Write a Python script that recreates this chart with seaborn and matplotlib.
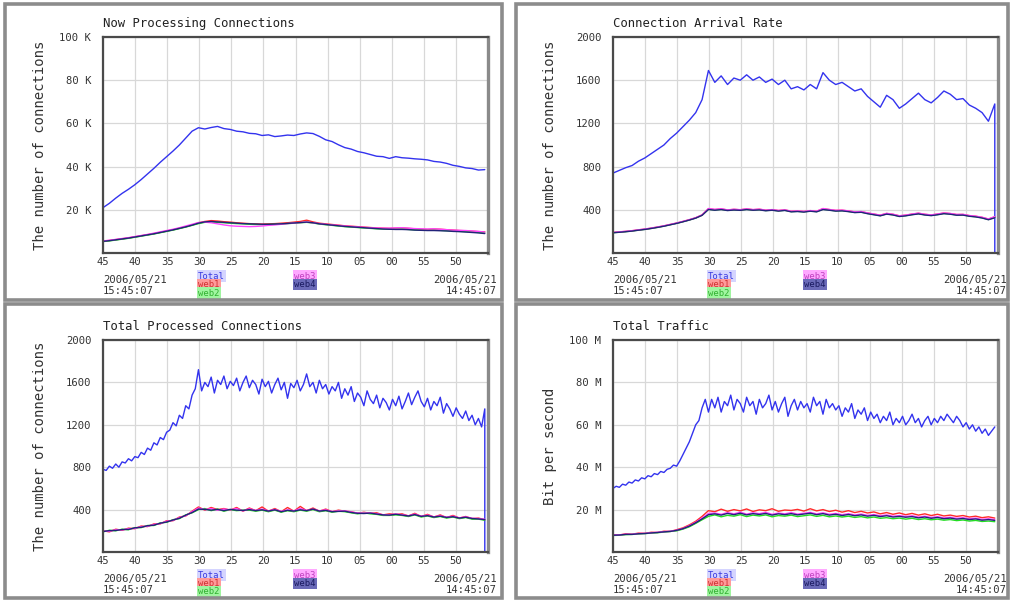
import numpy as np
import pandas as pd
import matplotlib
matplotlib.use("Agg")
import matplotlib.pyplot as plt
import matplotlib.transforms as mtransforms
from matplotlib.patches import Rectangle
import seaborn as sns

sns.set_style("white")
plt.rcParams["font.family"] = ["DejaVu Sans Mono", "DejaVu Sans"]

# ---------------------------------------------------------------- data
minute_tick_labels = ["45", "40", "35", "30", "25", "20", "15", "10", "05", "00", "55", "50"]
start_stamp = ["2006/05/21", "15:45:07"]
end_stamp = ["2006/05/21", "14:45:07"]
series_names = ["Total", "web1", "web2", "web3", "web4"]

titles = ["Now Processing Connections", "Connection Arrival Rate",
          "Total Processed Connections", "Total Traffic"]
ylabels = ["The number of connections", "The number of connections",
           "The number of connections", "Bit per second"]

now_yticks = [20, 40, 60, 80, 100]
now_yticklabels = ["20 K", "40 K", "60 K", "80 K", "100 K"]
conn_yticks = [400, 800, 1200, 1600, 2000]
conn_yticklabels = ["400", "800", "1200", "1600", "2000"]
traffic_yticks = [20, 40, 60, 80, 100]
traffic_yticklabels = ["20 M", "40 M", "60 M", "80 M", "100 M"]

# Now Processing Connections (thousands, one sample per minute)
now_total = [21, 23, 25.4, 27.6, 29.5, 31.6, 34, 36.6, 39.2, 42, 44.6, 47.2, 50, 53.2, 56.4, 58, 57.4,
             58.1, 58.6, 57.6, 57.2, 56.4, 56.1, 55.4, 55.2, 54.4, 54.7, 53.9, 54.2, 54.6, 54.4, 55.1,
             55.6, 55.3, 54, 52.4, 51.6, 50.1, 48.8, 48.1, 47, 46.4, 45.6, 44.8, 44.6, 43.8, 44.6,
             44.1, 43.9, 43.6, 43.4, 43.1, 42.4, 42.1, 41.5, 40.6, 40.1, 39.4, 39.1, 38.4, 38.6]
now_web1 = [5.5, 5.8, 6.2, 6.6, 7.0, 7.5, 8.0, 8.5, 9.0, 9.6, 10.2, 10.8, 11.5, 12.2, 13.0, 14.0, 14.6,
            15.0, 14.8, 14.5, 14.3, 14.0, 13.8, 13.6, 13.5, 13.4, 13.5, 13.6, 13.8, 14.0, 14.3, 14.6,
            15.2, 14.4, 13.8, 13.5, 13.2, 12.9, 12.6, 12.4, 12.2, 12.0, 11.8, 11.6, 11.5, 11.4, 11.5,
            11.6, 11.4, 11.2, 11.0, 10.9, 11.1, 11.0, 10.8, 10.6, 10.4, 10.3, 10.1, 9.9, 9.8]
now_web2 = [5.3, 5.6, 6.0, 6.4, 6.8, 7.3, 7.8, 8.3, 8.8, 9.4, 10.0, 10.6, 11.3, 12.0, 12.8, 13.6, 14.2,
            14.4, 14.2, 14.0, 13.8, 13.6, 13.5, 13.3, 13.2, 13.1, 13.2, 13.3, 13.4, 13.6, 13.8, 14.0,
            14.2, 13.9, 13.4, 13.1, 12.8, 12.5, 12.2, 12.0, 11.8, 11.6, 11.4, 11.2, 11.1, 11.0, 11.0,
            11.1, 10.9, 10.7, 10.6, 10.5, 10.6, 10.5, 10.3, 10.1, 10.0, 9.9, 9.7, 9.5, 9.3]
now_web3 = [5.6, 5.9, 6.3, 6.7, 7.1, 7.6, 8.1, 8.6, 9.2, 9.8, 10.4, 11.0, 11.7, 12.5, 13.3, 14.1, 14.3,
            14.0, 13.5, 13.0, 12.6, 12.4, 12.3, 12.2, 12.3, 12.5, 12.8, 13.0, 13.3, 13.6, 13.9, 14.1,
            14.3, 14.0, 13.6, 13.3, 13.0, 12.8, 12.5, 12.3, 12.1, 11.9, 11.7, 11.6, 11.5, 11.5, 11.6,
            11.7, 11.5, 11.3, 11.2, 11.1, 11.2, 11.0, 10.8, 10.6, 10.5, 10.4, 10.2, 10.0, 9.7]
now_web4 = [5.4, 5.7, 6.1, 6.5, 6.9, 7.4, 7.9, 8.4, 8.9, 9.5, 10.1, 10.7, 11.4, 12.1, 12.9, 13.8, 14.4,
            14.6, 14.4, 14.2, 14.0, 13.8, 13.6, 13.5, 13.4, 13.3, 13.3, 13.4, 13.5, 13.7, 13.9, 14.1,
            14.3, 14.0, 13.5, 13.2, 12.9, 12.6, 12.3, 12.1, 11.9, 11.7, 11.5, 11.3, 11.1, 11.0, 10.9,
            10.9, 10.8, 10.6, 10.5, 10.4, 10.4, 10.3, 10.2, 10.0, 9.9, 9.7, 9.5, 9.3, 9.0]

# Connection Arrival Rate (per minute samples; the last sample of the total is empty)
arrival_total = [740, 765, 790, 810, 850, 880, 920, 960, 1000, 1060, 1110, 1170, 1230, 1300, 1420,
                 1690, 1580, 1640, 1560, 1620, 1600, 1650, 1600, 1630, 1580, 1610, 1560, 1600, 1520,
                 1540, 1510, 1560, 1520, 1670, 1600, 1560, 1580, 1540, 1500, 1520, 1450, 1400, 1350,
                 1460, 1420, 1340, 1380, 1430, 1480, 1420, 1390, 1440, 1500, 1470, 1420, 1430, 1370,
                 1340, 1300, 1220, 1380]
arrival_web1 = [190, 195, 200, 206, 214, 221, 230, 240, 251, 264, 277, 292, 308, 326, 352, 410, 402,
                408, 398, 404, 400, 408, 401, 405, 396, 401, 393, 399, 386, 389, 384, 392, 386, 410,
                402, 394, 396, 389, 380, 383, 370, 360, 350, 366, 358, 344, 350, 360, 368, 358, 352,
                360, 370, 365, 356, 357, 346, 340, 330, 314, 335]
arrival_web2 = [188, 193, 198, 204, 212, 219, 228, 238, 249, 262, 275, 290, 306, 324, 350, 405, 398,
                404, 395, 400, 397, 404, 398, 401, 393, 398, 390, 396, 383, 386, 381, 389, 383, 405,
                398, 390, 392, 385, 376, 379, 366, 356, 346, 362, 354, 340, 346, 356, 364, 354, 348,
                356, 366, 361, 352, 353, 342, 336, 326, 310, 330]
arrival_web3 = [191, 196, 201, 207, 215, 222, 231, 241, 252, 265, 278, 293, 309, 327, 353, 412, 404,
                410, 399, 405, 401, 409, 402, 406, 397, 402, 394, 400, 387, 390, 385, 393, 387, 412,
                403, 395, 397, 390, 381, 384, 371, 361, 351, 367, 359, 345, 351, 361, 369, 359, 353,
                361, 371, 366, 357, 358, 347, 341, 331, 315, 337]
arrival_web4 = [187, 192, 197, 203, 211, 218, 227, 237, 248, 261, 274, 289, 305, 323, 349, 403, 396,
                402, 393, 398, 395, 402, 396, 399, 391, 396, 388, 394, 381, 384, 379, 387, 381, 402,
                396, 388, 390, 383, 374, 377, 364, 354, 344, 360, 352, 338, 344, 354, 362, 352, 346,
                354, 364, 359, 350, 351, 340, 334, 324, 308, 326]

# Total Processed Connections (total every 30 s, hosts every minute)
processed_total = [780, 770, 810, 790, 830, 800, 850, 840, 880, 860, 900,
                   890, 940, 920, 980, 960, 1030, 1010, 1080, 1060, 1130,
                   1150, 1220, 1190, 1290, 1260, 1380, 1350, 1480, 1540, 1720,
                   1520, 1600, 1560, 1650, 1500, 1620, 1580, 1660, 1540, 1610,
                   1570, 1640, 1520, 1600, 1660, 1550, 1620, 1580, 1490, 1630,
                   1560, 1610, 1500, 1580, 1640, 1530, 1600, 1450, 1590, 1550,
                   1620, 1520, 1580, 1680, 1560, 1600, 1500, 1620, 1540, 1580,
                   1490, 1560, 1520, 1600, 1450, 1540, 1480, 1560, 1420, 1500,
                   1460, 1380, 1520, 1440, 1400, 1480, 1360, 1450, 1410, 1340,
                   1440, 1380, 1470, 1350, 1420, 1500, 1390, 1460, 1520, 1420,
                   1370, 1450, 1340, 1420, 1380, 1460, 1310, 1400, 1350, 1280,
                   1360, 1300, 1260, 1330, 1240, 1290, 1200, 1260, 1180, 1350]
processed_web1 = [200, 190, 215, 205, 225, 220, 245, 240, 265, 265, 295, 295, 330, 340, 385, 425,
                  395, 420, 400, 410, 395, 420, 385, 415, 390, 425, 385, 410, 380, 420, 385,
                  430, 390, 415, 385, 405, 380, 395, 385, 380, 365, 375, 365, 370, 350, 360,
                  355, 360, 340, 365, 335, 355, 330, 350, 325, 345, 320, 335, 315, 320, 305]
processed_web2 = [190, 205, 200, 215, 210, 230, 230, 250, 250, 275, 280, 305, 315, 350, 370, 400,
                  410, 390, 405, 385, 400, 390, 395, 395, 385, 395, 380, 395, 375, 390, 380,
                  395, 385, 400, 380, 390, 375, 385, 380, 370, 360, 370, 360, 355, 345, 345,
                  350, 345, 335, 350, 330, 340, 325, 335, 320, 330, 315, 325, 310, 310, 300]
processed_web3 = [198, 195, 210, 208, 220, 222, 240, 242, 260, 268, 290, 298, 325, 342, 380, 415,
                  400, 410, 395, 405, 398, 410, 388, 408, 392, 405, 388, 402, 383, 398, 388,
                  410, 392, 405, 388, 398, 382, 388, 388, 378, 368, 368, 368, 362, 352, 352,
                  358, 352, 342, 358, 338, 348, 332, 342, 328, 338, 322, 332, 318, 316, 308]
processed_web4 = [193, 202, 203, 212, 213, 228, 233, 248, 253, 272, 283, 302, 318, 348, 372, 405,
                  402, 395, 402, 390, 402, 395, 392, 400, 390, 398, 386, 398, 380, 393, 386,
                  398, 390, 405, 386, 392, 380, 383, 385, 373, 365, 363, 367, 358, 350, 348,
                  356, 348, 340, 353, 336, 343, 330, 338, 326, 333, 320, 328, 316, 312, 305]

# Total Traffic (Mbit/s; total every 30 s, hosts every minute)
traffic_total = [30, 31, 30.5, 32, 31.5, 33, 32.5, 34, 33.5, 35, 34.5,
                 36, 35.5, 37, 36.5, 38, 37.5, 39, 39.5, 41, 40.5,
                 43, 46, 49, 52, 56, 60, 62, 68, 72, 66,
                 72, 68, 73, 66, 71, 69, 74, 67, 72, 70,
                 66, 73, 69, 71, 65, 72, 68, 70, 74, 67,
                 71, 66, 70, 73, 64, 69, 72, 67, 71, 68,
                 70, 66, 73, 69, 71, 65, 72, 68, 70, 67,
                 69, 64, 68, 66, 70, 63, 67, 65, 68, 62,
                 66, 63, 65, 61, 64, 62, 66, 60, 63, 61,
                 64, 60, 62, 65, 61, 63, 59, 62, 64, 60,
                 63, 61, 64, 62, 65, 63, 61, 64, 62, 59,
                 61, 58, 60, 57, 59, 56, 58, 55, 57, 59]
traffic_web1 = [8.2, 8.0, 8.6, 8.4, 8.9, 8.8, 9.3, 9.2, 9.8, 9.7, 10.5, 11.4, 12.8, 14.5, 16.8, 19.5,
                19.0, 20.2, 19.2, 20.0, 19.4, 20.3, 19.1, 19.9, 19.5, 20.4, 19.2, 19.8, 19.6, 20.1, 19.3,
                20.4, 19.4, 20.0, 19.1, 19.7, 18.8, 19.5, 18.6, 19.2, 18.4, 18.9, 18.0, 18.6, 17.8, 18.4,
                17.6, 18.2, 17.4, 18.0, 17.2, 17.8, 17.0, 17.4, 16.8, 17.2, 16.5, 16.9, 16.2, 16.6, 16.0]
traffic_web2 = [7.8, 7.9, 8.2, 8.3, 8.5, 8.7, 8.9, 9.1, 9.4, 9.7, 10.0, 10.8, 11.9, 13.5, 15.2, 16.8,
                17.5, 16.6, 17.3, 16.9, 17.6, 16.7, 17.4, 17.0, 17.5, 16.6, 17.2, 16.9, 17.4, 16.7, 17.1,
                17.5, 16.8, 17.3, 16.6, 17.0, 16.5, 16.9, 16.3, 16.7, 16.1, 16.5, 15.9, 16.2, 15.7, 16.0,
                15.5, 15.9, 15.3, 15.7, 15.2, 15.5, 15.0, 15.3, 14.8, 15.1, 14.6, 14.9, 14.4, 14.6, 14.3]
traffic_web3 = [8.0, 8.1, 8.4, 8.4, 8.7, 8.8, 9.1, 9.3, 9.6, 9.8, 10.3, 11.1, 12.4, 14.0, 16.0, 18.2,
                18.4, 17.8, 18.6, 18.0, 18.8, 17.9, 18.5, 18.1, 18.7, 17.8, 18.4, 18.0, 18.6, 17.9, 18.3,
                18.7, 18.0, 18.5, 17.8, 18.2, 17.6, 18.1, 17.5, 17.9, 17.3, 17.7, 17.1, 17.5, 16.9, 17.2,
                16.8, 17.1, 16.5, 16.9, 16.3, 16.7, 16.1, 16.4, 15.9, 16.2, 15.7, 16.0, 15.4, 15.7, 15.3]
traffic_web4 = [7.9, 8.0, 8.3, 8.3, 8.6, 8.7, 9.0, 9.2, 9.5, 9.7, 10.2, 11.0, 12.2, 13.8, 15.6, 17.6,
                18.0, 17.4, 18.2, 17.6, 18.3, 17.5, 18.1, 17.7, 18.2, 17.4, 18.0, 17.6, 18.1, 17.5, 17.9,
                18.3, 17.6, 18.1, 17.4, 17.8, 17.2, 17.7, 17.1, 17.5, 16.9, 17.3, 16.7, 17.1, 16.5, 16.8,
                16.4, 16.7, 16.1, 16.5, 15.9, 16.3, 15.7, 16.0, 15.5, 15.8, 15.3, 15.6, 15.0, 15.3, 14.9]

# the collector reported an empty final sample for these two counters
final_empty_sample = [None, 0, 0, None]
# samples cover the window up to the last completed poll
sampled_span_minutes = 59.5

# ---------------------------------------------------------------- style
line_colors = ["#3333ee", "#ff2a2a", "#22dd22", "#ff44ff", "#22227a"]
legend_text_colors = ["#3a3ae0", "#d03030", "#30b030", "#c040c0", "#1a1a60"]
legend_face_colors = ["#d4d4ff", "#ff9a9a", "#a0f5a0", "#ffa8ff", "#6a6ab8"]

W, H = 1011, 601
fig = plt.figure(figsize=(W / 100, H / 100), dpi=100)
fig.patch.set_facecolor("white")

frames = [(5, 4, 502, 300), (516, 4, 1008, 300), (5, 304, 502, 598), (516, 304, 1008, 598)]
plot_boxes = [(103, 37, 488, 253), (613, 37, 998, 253), (103, 340, 488, 552), (613, 340, 998, 552)]

panels = [
    ([now_total, now_web1, now_web2, now_web3, now_web4], now_yticks, now_yticklabels),
    ([arrival_total, arrival_web1, arrival_web2, arrival_web3, arrival_web4], conn_yticks, conn_yticklabels),
    ([processed_total, processed_web1, processed_web2, processed_web3, processed_web4], conn_yticks, conn_yticklabels),
    ([traffic_total, traffic_web1, traffic_web2, traffic_web3, traffic_web4], traffic_yticks, traffic_yticklabels),
]

for (fx0, fy0, fx1, fy1) in frames:
    fig.patches.append(Rectangle((fx0 / W, 1 - fy1 / H), (fx1 - fx0) / W, (fy1 - fy0) / H,
                                 transform=fig.transFigure, fill=False,
                                 edgecolor="#8c8c8c", linewidth=2.6))


def below(ax, dy):
    """Axes-fraction x, y measured in pixels below the bottom spine."""
    return ax.transAxes + mtransforms.ScaledTranslation(0, -dy / 100, fig.dpi_scale_trans)


for i, (series, yticks, yticklabels) in enumerate(panels):
    x0, y0, x1, y1 = plot_boxes[i]
    ax = fig.add_axes([x0 / W, 1 - y1 / H, (x1 - x0) / W, (y1 - y0) / H])

    frames_list = []
    for name, vals in zip(series_names, series):
        minutes = np.linspace(0, sampled_span_minutes, len(vals))
        values = list(vals)
        if name == "Total" and final_empty_sample[i] is not None:
            minutes = np.append(minutes, sampled_span_minutes)
            values = values + [final_empty_sample[i]]
        frames_list.append(pd.DataFrame({"minute": minutes, "value": values, "series": name}))
    df = pd.concat(frames_list, ignore_index=True)

    sns.lineplot(data=df, x="minute", y="value", hue="series", hue_order=series_names,
                 palette=line_colors, estimator=None, sort=False, legend=False,
                 linewidth=1.0, ax=ax)

    ax.set_xlim(0, 60)
    ax.set_ylim(0, yticks[-1])
    ax.set_xticks(np.arange(0, 60, 5))
    ax.set_xticklabels(minute_tick_labels, fontsize=7.6, color="#333333")
    ax.set_yticks(yticks)
    ax.set_yticklabels(yticklabels, fontsize=7.6, color="#333333")
    ax.set_xlabel("")
    ax.grid(True, color="#d8d8d8", linewidth=0.9)
    ax.set_axisbelow(True)
    ax.tick_params(axis="both", direction="inout", length=5, width=1, color="#555555")
    ax.tick_params(axis="y", pad=6)
    ax.tick_params(axis="x", pad=0.5)
    for side in ["left", "bottom", "top"]:
        ax.spines[side].set_color("#4a4a4a")
        ax.spines[side].set_linewidth(1.6)
    ax.spines["right"].set_color("#8a8a8a")
    ax.spines["right"].set_linewidth(2.4)

    ax.set_title(titles[i], loc="left", fontsize=8.8, pad=7, color="#222222")
    ax.set_ylabel(ylabels[i], fontsize=10, color="#333333")
    ax.yaxis.set_label_coords(-0.146, 0.5)

    # time stamps of the window ends
    for row, dy in enumerate([27, 38]):
        ax.text(0, 0, start_stamp[row], transform=below(ax, dy), ha="left", va="center",
                fontsize=7.6, color="#333333")
        ax.text(1.023, 0, end_stamp[row], transform=below(ax, dy), ha="right", va="center",
                fontsize=7.6, color="#333333")

    # colour key
    key_slots = [(0.247, 23), (0.247, 31.5), (0.247, 40), (0.496, 23), (0.496, 31.5)]
    for k, name in enumerate(series_names):
        kx, kdy = key_slots[k]
        ax.text(kx, 0, name, transform=below(ax, kdy), ha="left", va="center",
                fontsize=6.4, color=legend_text_colors[k],
                bbox=dict(boxstyle="square,pad=0.12", facecolor=legend_face_colors[k],
                          edgecolor="none"))

fig.savefig("out.png", dpi=100)
